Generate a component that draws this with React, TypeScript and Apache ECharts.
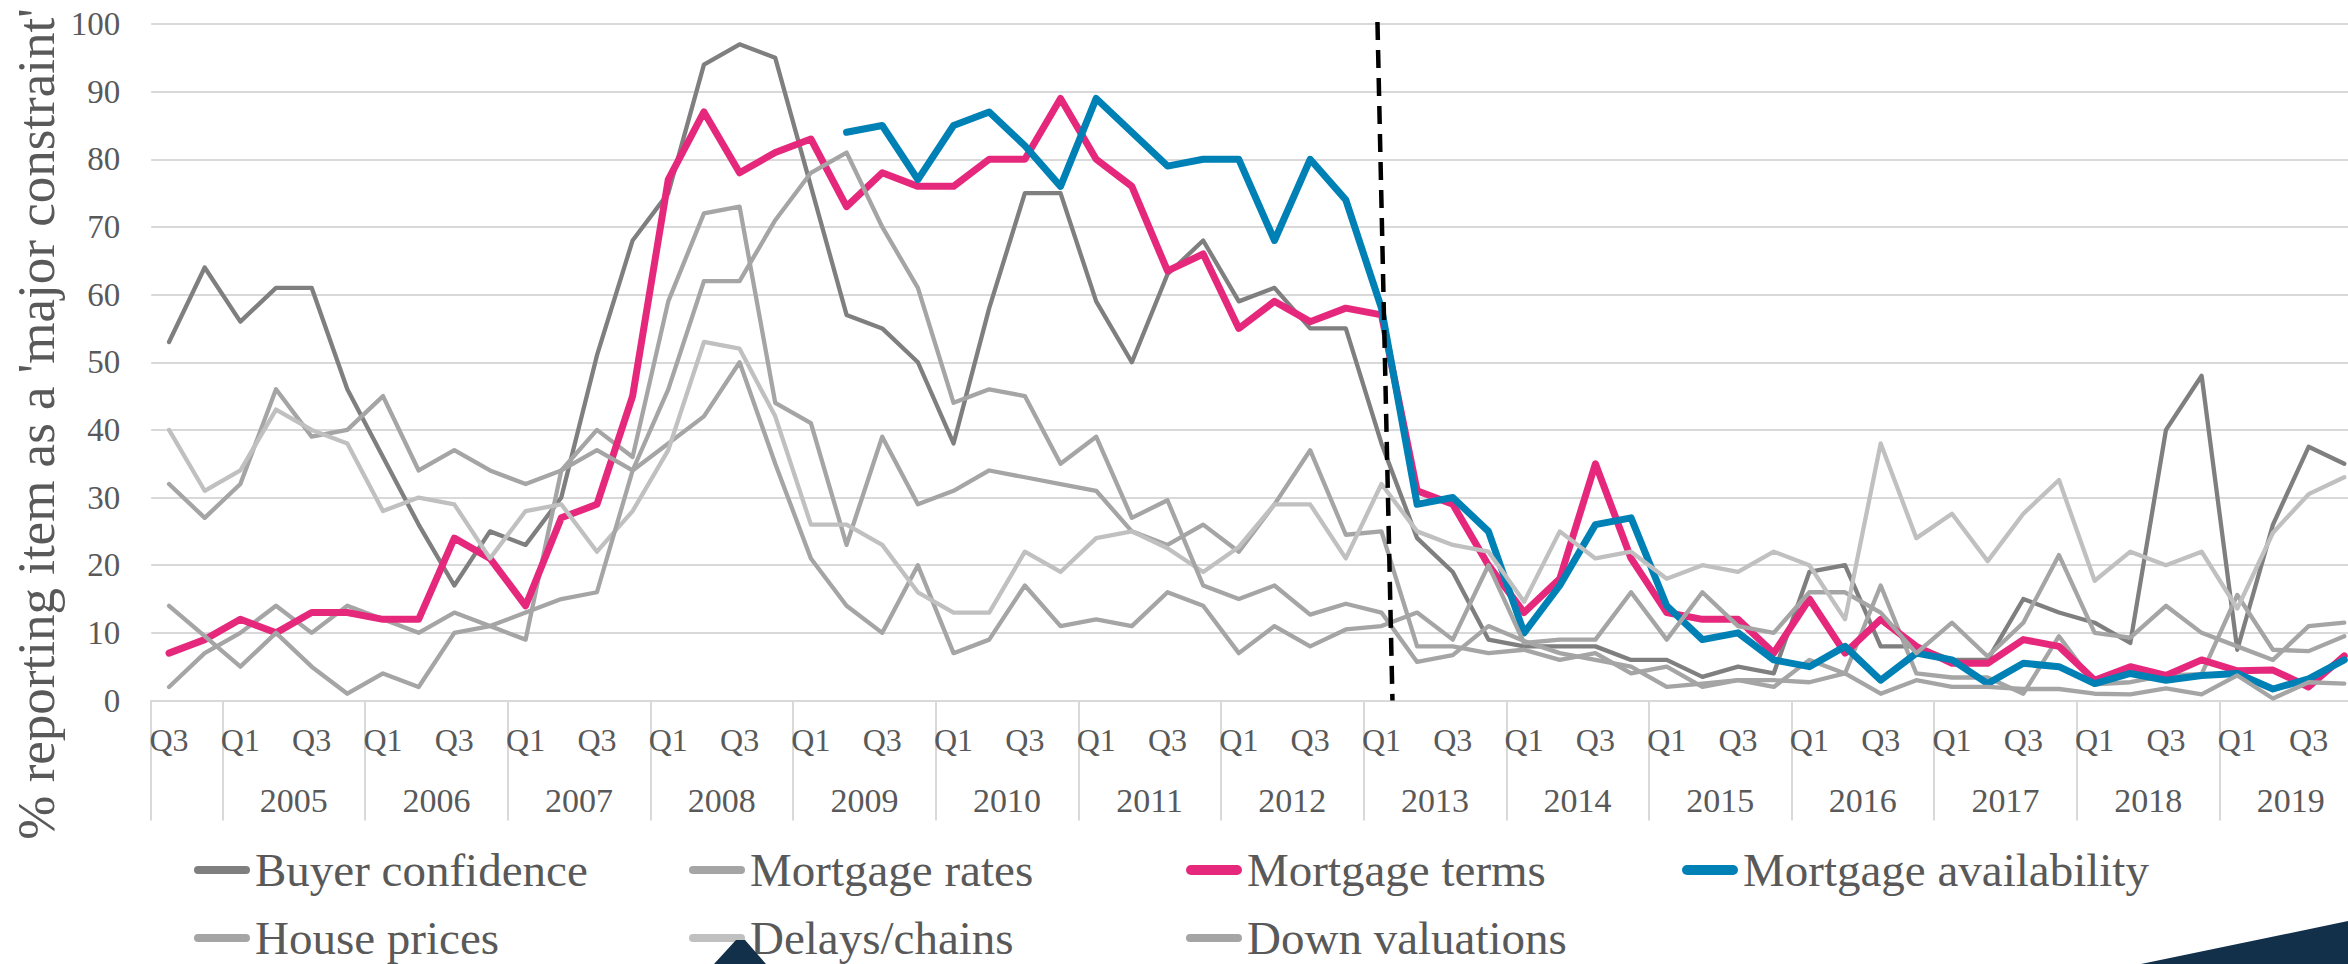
import React, { useEffect, useRef } from "react";
import * as echarts from "echarts";

const quarters = [
  "2004 Q3", "2004 Q4",
  "2005 Q1", "2005 Q2", "2005 Q3", "2005 Q4",
  "2006 Q1", "2006 Q2", "2006 Q3", "2006 Q4",
  "2007 Q1", "2007 Q2", "2007 Q3", "2007 Q4",
  "2008 Q1", "2008 Q2", "2008 Q3", "2008 Q4",
  "2009 Q1", "2009 Q2", "2009 Q3", "2009 Q4",
  "2010 Q1", "2010 Q2", "2010 Q3", "2010 Q4",
  "2011 Q1", "2011 Q2", "2011 Q3", "2011 Q4",
  "2012 Q1", "2012 Q2", "2012 Q3", "2012 Q4",
  "2013 Q1", "2013 Q2", "2013 Q3", "2013 Q4",
  "2014 Q1", "2014 Q2", "2014 Q3", "2014 Q4",
  "2015 Q1", "2015 Q2", "2015 Q3", "2015 Q4",
  "2016 Q1", "2016 Q2", "2016 Q3", "2016 Q4",
  "2017 Q1", "2017 Q2", "2017 Q3", "2017 Q4",
  "2018 Q1", "2018 Q2", "2018 Q3", "2018 Q4",
  "2019 Q1", "2019 Q2", "2019 Q3", "2019 Q4",
];

const years = ["2005", "2006", "2007", "2008", "2009", "2010", "2011", "2012", "2013", "2014", "2015", "2016", "2017", "2018", "2019"];

const yTicks = [0, 10, 20, 30, 40, 50, 60, 70, 80, 90, 100];

const breakQuarter = "2013 Q1";

const buyerConfidence = [
  53, 64, 56, 61, 61, 46, 36, 26,
  17, 25, 23, 30, 51, 68, 75, 94,
  97, 95, 76, 57, 55, 50, 38, 58,
  75, 75, 59, 50, 63, 68, 59, 61,
  55, 55, 38, 24, 19, 9, 8, 8,
  8, 6, 6, 3.5, 5, 4, 19, 20,
  8, 8, 6, 6, 15, 13, 11.5, 8.5,
  40, 48, 7.5, 26, 37.5, 35,
];

const mortgageRates = [
  2, 7, 10, 14, 10, 14, 12, 10,
  13, 11, 9, 34, 40, 36, 59, 72,
  73, 44, 41, 23, 39, 29, 31, 34,
  33, 32, 31, 25, 23, 26, 22, 29,
  37, 24.5, 25, 8, 8, 7, 7.5, 6,
  7, 4, 5, 2, 3, 2, 6, 4,
  17, 4, 3.4, 3.4, 1, 9.5, 2.4, 2.7,
  3.7, 3.9, 15.6, 7.5, 7.3, 9.5,
];

const mortgageTerms = [
  7, 9, 12, 10, 13, 13, 12, 12,
  24, 21, 14, 27, 29, 45, 77, 87,
  78, 81, 83, 73, 78, 76, 76, 80,
  80, 89, 80, 76, 63.5, 66, 55, 59,
  56, 58, 57, 31, 29, 20, 13, 18,
  35, 21, 13, 12, 12, 7, 15, 7,
  12, 8, 5.5, 5.5, 9, 8, 3, 5,
  3.7, 6, 4.4, 4.5, 2, 6.6,
];

const mortgageAvailability = [
  null, null, null, null, null, null, null, null,
  null, null, null, null, null, null, null, null,
  null, null, null, 84, 85, 77, 85, 87,
  82, 76, 89, 84, 79, 80, 80, 68,
  80, 74, 58, 29, 30, 25, 10, 17,
  26, 27, 14, 9, 10, 6, 5, 8,
  3, 7, 6, 2.5, 5.5, 5, 2.5, 4,
  3, 3.7, 4, 1.7, 3.2, 6,
];

const housePrices = [
  32, 27, 32, 46, 39, 40, 45, 34,
  37, 34, 32, 34, 37, 34, 38, 42,
  50, 35, 21, 14, 10, 20, 7, 9,
  17, 11, 12, 11, 16, 14, 7, 11,
  8, 10.5, 11, 13, 9, 20, 8.5, 9,
  9, 16, 9, 16, 11, 10, 16, 16,
  13, 7, 11.5, 6.5, 11.5, 21.5, 10, 9.3,
  14, 10, 8, 6, 11, 11.5,
];

const delaysChains = [
  40, 31, 34, 43, 40, 38, 28, 30,
  29, 21, 28, 29, 22, 28, 37, 53,
  52, 42, 26, 26, 23, 16, 13, 13,
  22, 19, 24, 25, 22.5, 19, 22.7, 29,
  29, 21, 32, 25, 23, 22, 14.6, 25,
  21, 22, 18, 20, 19, 22, 20, 12,
  38, 24, 27.6, 20.6, 27.6, 32.6, 17.7, 22,
  20, 22, 13.6, 24.8, 30.5, 33,
];

const downValuations = [
  14, 9.5, 5, 10, 5, 1, 4, 2,
  10, 11, 13, 15, 16, 34, 46, 62,
  62, 71, 78, 81, 70, 61, 44, 46,
  45, 35, 39, 27, 29.6, 17, 15, 17,
  12.7, 14.3, 13, 5.7, 6.7, 11, 8.8, 7,
  6, 5, 2, 2.5, 3, 3, 2.7, 4,
  1, 3, 2, 2, 1.7, 1.7, 1, 0.9,
  1.8, 0.9, 3.7, 0.3, 2.7, 2.5,
];

const seriesNames = [
  "Buyer confidence",
  "Mortgage rates",
  "Mortgage terms",
  "Mortgage availability",
  "House prices",
  "Delays/chains",
  "Down valuations",
];

const yTitle = "% reporting item as a 'major constraint'";

export default function App() {
  const ref = useRef<HTMLDivElement>(null);

  useEffect(() => {
    document.body.style.margin = "0";
    const el = ref.current!;
    const chart = echarts.init(el, null, { renderer: "svg" });
    const font = "Liberation Serif";
    const textColor = "#595959";
    const gridColor = "#d9d9d9";

    const yearStarts = years.map((y) => quarters.indexOf(`${y} Q1`));
    const boundaries = [0, ...yearStarts, quarters.length];
    const yearCenters = yearStarts.map((s) => s + 2);

    const thin = "path://M4,0H52A4,4,0,0,1,52,8H4A4,4,0,0,1,4,0Z";
    const thick = "path://M5,0H51A5,5,0,0,1,51,10H5A5,5,0,0,1,5,0Z";

    const colors: Record<string, string> = {
      "Buyer confidence": "#7f7f7f",
      "Mortgage rates": "#a5a5a5",
      "Mortgage terms": "#e6287c",
      "Mortgage availability": "#0081b5",
      "House prices": "#a5a5a5",
      "Delays/chains": "#c0c0c0",
      "Down valuations": "#a5a5a5",
    };
    const dataByName: Record<string, (number | null)[]> = {
      "Buyer confidence": buyerConfidence,
      "Mortgage rates": mortgageRates,
      "Mortgage terms": mortgageTerms,
      "Mortgage availability": mortgageAvailability,
      "House prices": housePrices,
      "Delays/chains": delaysChains,
      "Down valuations": downValuations,
    };
    const widths: Record<string, number> = {
      "Buyer confidence": 4.3,
      "Mortgage rates": 4.3,
      "Mortgage terms": 7,
      "Mortgage availability": 7,
      "House prices": 4.3,
      "Delays/chains": 4.3,
      "Down valuations": 4.3,
    };

    const series = seriesNames.map((name) => ({
      type: "line",
      name,
      data: dataByName[name],
      symbol: "none",
      connectNulls: false,
      lineStyle: { color: colors[name], width: widths[name], cap: "round", join: "round" },
      itemStyle: { color: colors[name] },
      emphasis: { disabled: true },
    }));

    const legendItem = (name: string) => ({
      name,
      icon: widths[name] > 5 ? thick : thin,
    });

    const legendBase = {
      orient: "vertical",
      top: 846.5,
      height: 160,
      padding: 0,
      itemGap: 21,
      itemWidth: 56,
      itemHeight: 10,
      selectedMode: true,
      textStyle: { fontFamily: font, fontSize: 47, lineHeight: 47, color: textColor },
    };

    const decorations = [
      {
        type: "text",
        x: 36,
        y: 424,
        rotation: Math.PI / 2,
        style: {
          text: yTitle,
          fontFamily: font,
          fontSize: 53,
          fill: textColor,
          align: "center",
          verticalAlign: "middle",
        },
      },
      {
        type: "polygon",
        z: 100,
        shape: { points: [[714, 964], [736, 940], [745, 940], [766, 964]] },
        style: { fill: "#12304a" },
      },
      {
        type: "polygon",
        z: 100,
        shape: { points: [[2141, 964], [2348, 921], [2348, 964]] },
        style: { fill: "#12304a" },
      },
    ];

    const option: any = {
      animation: false,
      grid: { left: 151.2, width: 2210.9, top: 24, bottom: 263.5, outerBoundsMode: "none", containLabel: false },
      legend: [
        { ...legendBase, left: 194, data: ["Buyer confidence", "House prices"].map(legendItem) },
        { ...legendBase, left: 689, data: ["Mortgage rates", "Delays/chains"].map(legendItem) },
        { ...legendBase, left: 1186, data: ["Mortgage terms", "Down valuations"].map(legendItem) },
        { ...legendBase, left: 1682, data: ["Mortgage availability"].map(legendItem) },
      ],
      xAxis: [
        {
          type: "category",
          data: quarters,
          boundaryGap: true,
          axisLine: { show: true, lineStyle: { color: gridColor, width: 2 } },
          axisTick: { show: false },
          axisLabel: {
            interval: 1,
            margin: 23,
            fontFamily: font,
            fontSize: 32,
            color: textColor,
            formatter: (v: string) => v.split(" ")[1],
          },
          splitLine: { show: false },
        },
        {
          type: "value",
          min: 0,
          max: quarters.length,
          position: "bottom",
          axisLine: { show: false },
          splitLine: { show: false },
          axisTick: {
            show: true,
            customValues: boundaries,
            length: 120,
            lineStyle: { color: gridColor, width: 2 },
          },
          axisLabel: {
            show: true,
            customValues: yearCenters,
            margin: 83,
            fontFamily: font,
            fontSize: 34,
            color: textColor,
            formatter: (v: number) => {
              const k = yearCenters.indexOf(v);
              return k >= 0 ? years[k] : "";
            },
          },
        },
      ],
      yAxis: {
        type: "value",
        min: yTicks[0],
        max: yTicks[yTicks.length - 1],
        interval: 10,
        axisLine: { show: false },
        axisTick: { show: false },
        axisLabel: { margin: 31, fontFamily: font, fontSize: 33, color: textColor },
        splitLine: { lineStyle: { color: gridColor, width: 2 } },
      },
      series,
      graphic: decorations,
    };

    chart.setOption(option);

    const top = chart.convertToPixel({ xAxisIndex: 0, yAxisIndex: 0 }, [breakQuarter, 100]) as number[];
    const bottom = chart.convertToPixel({ xAxisIndex: 0, yAxisIndex: 0 }, [breakQuarter, 0]) as number[];
    chart.setOption({
      graphic: [
        ...decorations,
        {
          type: "line",
          z: 50,
          shape: { x1: top[0] - 4, y1: top[1] - 2, x2: bottom[0] + 11, y2: bottom[1] },
          style: { stroke: "#000000", lineWidth: 4.5, lineDash: [18, 10] },
        },
      ],
    });

    return () => {
      chart.dispose();
    };
  }, []);

  return (
    <div style={{ position: "absolute", left: 0, top: 0, width: 2348, height: 964, overflow: "hidden", background: "#ffffff" }}>
      <div ref={ref} style={{ position: "absolute", left: 0, top: 0, width: 2370, height: 964 }} />
    </div>
  );
}
